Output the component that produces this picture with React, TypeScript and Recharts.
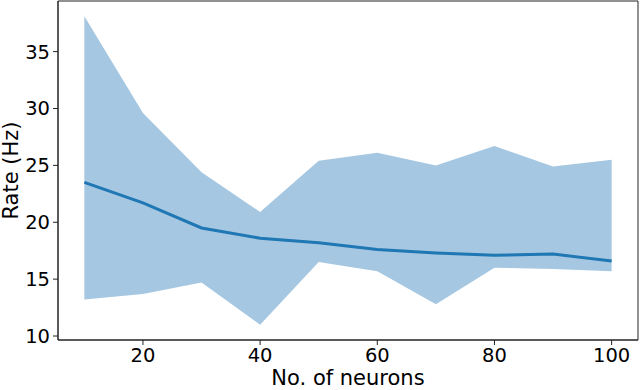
import { Area, ComposedChart, Line, ReferenceArea, XAxis, YAxis } from "recharts";

// values
const neurons = [10, 20, 30, 40, 50, 60, 70, 80, 90, 100];
const meanRate = [23.5, 21.7, 19.5, 18.6, 18.2, 17.6, 17.3, 17.1, 17.2, 16.6];
const lowerRate = [13.2, 13.7, 14.7, 11.0, 16.5, 15.7, 12.8, 16.0, 15.9, 15.7];
const upperRate = [38.1, 29.6, 24.4, 20.9, 25.4, 26.1, 25.0, 26.7, 24.9, 25.5];
const xTicks = [20, 40, 60, 80, 100];
const yTicks = [10, 15, 20, 25, 30, 35];

const data = neurons.map((n, i) => ({
  neurons: n,
  mean: meanRate[i],
  band: [lowerRate[i], upperRate[i]],
}));

const xDomain = [5.5, 104.5];
const yDomain = [9.65, 39.45];
const font = { fontFamily: "DejaVu Sans", fontSize: 19.5, fill: "#000" };
const labelFont = { ...font, fontSize: 21 };
const axisStroke = "#222";

export default function App() {
  return (
    <div style={{ position: "absolute", left: 0, top: 0 }}>
      <ComposedChart
        width={640}
        height={390}
        data={data}
        margin={{ top: 1, right: 2, left: 0, bottom: 0 }}
      >
        <XAxis
          dataKey="neurons"
          type="number"
          domain={xDomain}
          ticks={xTicks}
          allowDataOverflow
          height={50}
          tick={font}
          tickSize={5}
          tickMargin={3}
          stroke={axisStroke}
          label={{
            value: "No. of neurons",
            position: "insideBottom",
            offset: 5,
            style: labelFont,
          }}
        />
        <YAxis
          type="number"
          domain={yDomain}
          ticks={yTicks}
          allowDataOverflow
          width={58}
          tick={font}
          tickSize={5}
          tickMargin={3}
          stroke={axisStroke}
          label={{
            value: "Rate (Hz)",
            angle: -90,
            position: "insideLeft",
            offset: 11,
            style: { ...labelFont, textAnchor: "middle" },
          }}
        />
        <Area
          dataKey="band"
          type="linear"
          stroke="none"
          fill="#a5c7e1"
          fillOpacity={1}
          isAnimationActive={false}
        />
        <Line
          dataKey="mean"
          type="linear"
          stroke="#1f77b4"
          strokeWidth={3}
          dot={false}
          isAnimationActive={false}
        />
        <ReferenceArea
          x1={xDomain[0]}
          x2={xDomain[1]}
          y1={yDomain[0]}
          y2={yDomain[1]}
          fill="none"
          stroke={axisStroke}
          strokeWidth={1}
          ifOverflow="visible"
        />
      </ComposedChart>
    </div>
  );
}
